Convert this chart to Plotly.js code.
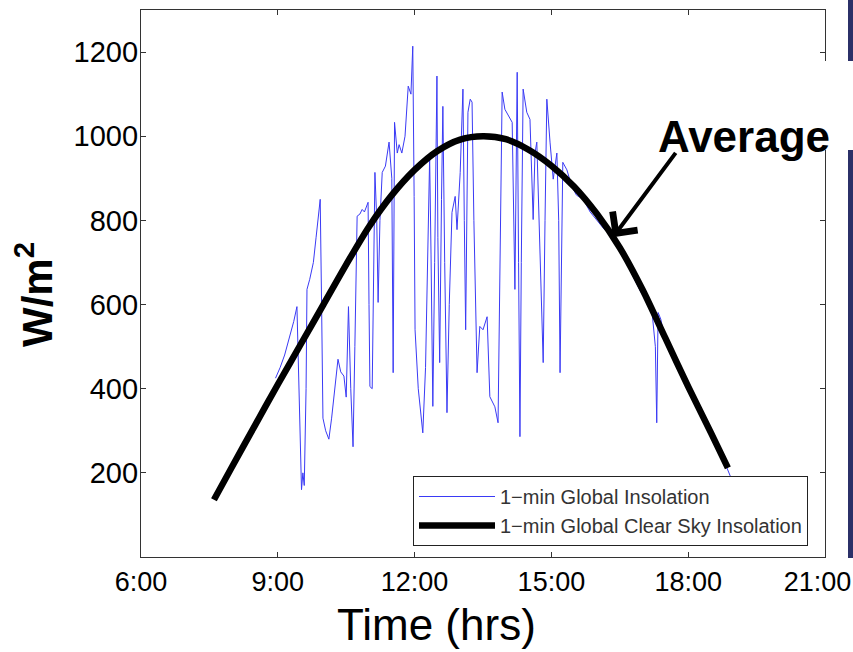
<!DOCTYPE html>
<html>
<head>
<meta charset="utf-8">
<script src="https://cdn.plot.ly/plotly-3.0.1.min.js"></script>
<style>
  html, body { margin: 0; padding: 0; background: #ffffff; }
  #chart { width: 853px; height: 652px; }
</style>
</head>
<body>
<div id="chart"></div>
<script>
// ---- Data ----
// 1-min Global Insolation (hours of day, W/m2)
const insolHours = [
  8.95, 9.05, 9.15, 9.25, 9.35, 9.42, 9.47, 9.52, 9.55, 9.58, 9.62, 9.64, 9.70, 9.78, 9.84, 9.88, 9.93, 9.96, 9.99,
  10.05, 10.12, 10.18, 10.25, 10.32, 10.38, 10.45, 10.50, 10.55, 10.60, 10.65, 10.69, 10.74, 10.80, 10.85, 10.90, 10.98,
  11.00, 11.02, 11.07, 11.10, 11.13, 11.17, 11.20, 11.24, 11.29, 11.36, 11.44, 11.50, 11.53, 11.56, 11.62, 11.66, 11.72,
  11.79, 11.86, 11.92, 11.96, 11.99, 12.01, 12.08, 12.14, 12.18, 12.24, 12.29, 12.33, 12.36, 12.40, 12.44, 12.49, 12.51,
  12.55, 12.59, 12.62, 12.66, 12.71, 12.76, 12.82, 12.89, 12.93, 13.00, 13.06, 13.09, 13.12, 13.17, 13.22, 13.26, 13.30,
  13.37, 13.43, 13.50, 13.59, 13.65, 13.76, 13.83, 13.87, 13.92, 13.98, 14.05, 14.14, 14.20, 14.25, 14.28, 14.31, 14.34,
  14.38, 14.46, 14.53, 14.60, 14.64, 14.68, 14.75, 14.82, 14.86, 14.90, 14.97, 15.04, 15.12, 15.16, 15.19, 15.22, 15.25,
  15.34, 15.45, 15.55, 15.70, 15.85, 16.00, 16.15, 16.30, 16.50, 16.80, 16.95, 17.10, 17.20, 17.28, 17.31, 17.34, 17.40,
  17.48, 17.60, 17.90, 18.20, 18.50, 18.80, 18.95
];
const insolValues = [
  425, 450, 480, 520, 560, 595, 400, 160, 200, 170, 400, 636, 660, 700, 760, 800, 850, 600, 330,
  300, 280, 330, 400, 470, 440, 430, 380, 595, 400, 262, 500, 810, 815, 826, 820, 843,
  600, 405, 400, 700, 914, 800, 605, 800, 914, 929, 986, 900, 438, 1033, 960, 980, 960,
  1000, 1119, 1100, 1214, 857, 540, 400, 330, 295, 450, 714, 950, 720, 358, 700, 1143, 760,
  462, 850, 1071, 700, 343, 600, 819, 857, 778, 914, 1112, 800, 540, 1057, 1088, 1081, 800,
  438, 548, 540, 571, 381, 357, 319, 700, 1105, 1064, 1050, 1033, 636, 1152, 700, 286, 700,
  1112, 1057, 1040, 802, 960, 986, 700, 462, 800, 1088, 986, 898, 960, 800, 438, 700, 938,
  920, 880, 860, 850, 820, 800, 780, 765, 730, 665, 632, 605, 590, 500, 319, 581, 565,
  520, 490, 430, 365, 295, 225, 185
];
// 1-min Global Clear Sky Insolation
const clearHours = [7.60, 8.00, 8.50, 9.00, 9.50, 10.00, 10.50, 11.00, 11.50, 12.00, 12.50, 13.00, 13.50,
  14.00, 14.50, 15.00, 15.50, 16.00, 16.50, 17.00, 17.50, 18.00, 18.50, 18.87];
const clearValues = [136, 215, 313, 410, 505, 600, 695, 785, 860, 920, 965, 992, 1000,
  993, 968, 930, 880, 815, 735, 635, 520, 405, 295, 212];

const xTickVals = [6, 9, 12, 15, 18, 21];
const xTickText = ['6:00', '9:00', '12:00', '15:00', '18:00', '21:00\u00A0\u00A0'];
const yTickVals = [200, 400, 600, 800, 1000, 1200];
const seriesNames = ['1\u2212min Global Insolation', '1\u2212min Global Clear Sky Insolation'];

// ---- Chart ----
const FONT = 'Liberation Sans, Arial, Helvetica, sans-serif';
const W = 853, H = 652;
const M = { l: 141, r: 28, t: 10, b: 95 };
const pw = W - M.l - M.r, ph = H - M.t - M.b;
const px = (x) => (x - M.l) / pw;          // page pixel -> paper x
const py = (y) => (H - M.b - y) / ph;      // page pixel -> paper y

const traces = [
  {
    x: insolHours, y: insolValues, type: 'scatter', mode: 'lines',
    name: seriesNames[0],
    line: { color: '#3a3af5', width: 1 }
  },
  {
    x: clearHours, y: clearValues, type: 'scatter', mode: 'lines',
    name: seriesNames[1],
    line: { color: '#000000', width: 6.5, shape: 'spline', smoothing: 0.8 }
  }
];

const axisCommon = {
  showline: true, linecolor: '#333333', linewidth: 1.3, mirror: 'ticks',
  ticks: 'inside', ticklen: 5, tickwidth: 1, tickcolor: '#333333',
  showgrid: false, zeroline: false, ticklabeloverflow: 'allow'
};

const layout = {
  width: W, height: H,
  margin: M,
  paper_bgcolor: '#ffffff', plot_bgcolor: '#ffffff',
  showlegend: true,
  xaxis: Object.assign({}, axisCommon, {
    range: [6, 21], tickmode: 'array', tickvals: xTickVals, ticktext: xTickText,
    tickfont: { family: FONT, size: 27, color: '#000000' }
  }),
  yaxis: Object.assign({}, axisCommon, {
    range: [0, 1300], tickmode: 'array', tickvals: yTickVals, ticklabelstandoff: -4,
    tickfont: { family: FONT, size: 29, color: '#000000' }
  }),
  legend: {
    x: px(808), y: py(546), xanchor: 'right', yanchor: 'bottom',
    bgcolor: '#ffffff', bordercolor: '#222222', borderwidth: 1,
    font: { family: FONT, size: 20, color: '#333333' },
    itemwidth: 76, tracegroupgap: 0
  },
  shapes: [
    // white box behind "Average" covering the frame
    { type: 'rect', xref: 'paper', yref: 'paper', x0: px(640), x1: px(853), y0: py(150), y1: py(61),
      fillcolor: '#ffffff', line: { width: 0 }, layer: 'above' },
    // navy slide bars at right edge
    { type: 'rect', xref: 'paper', yref: 'paper', x0: px(848), x1: px(856), y0: py(61), y1: py(0),
      fillcolor: '#2b3068', line: { width: 0 }, layer: 'above' },
    { type: 'rect', xref: 'paper', yref: 'paper', x0: px(848), x1: px(856), y0: py(558), y1: py(150),
      fillcolor: '#2b3068', line: { width: 0 }, layer: 'above' }
  ],
  annotations: [
    { text: '<b>Average</b>', xref: 'paper', yref: 'paper', x: px(744), y: py(136),
      xanchor: 'center', yanchor: 'middle', showarrow: false,
      font: { family: FONT, size: 44, color: '#000000' } },
    { text: '', x: 16.35, y: 760, ax: 17.75, ay: 964, xref: 'x', yref: 'y', axref: 'x', ayref: 'y',
      showarrow: true, arrowhead: 4, arrowsize: 1.5, arrowwidth: 4, arrowcolor: '#000000', standoff: 0 },
    { text: 'Time (hrs)', xref: 'paper', yref: 'paper', x: px(436), y: py(624),
      xanchor: 'center', yanchor: 'middle', showarrow: false,
      font: { family: FONT, size: 44, color: '#000000' } },
    { text: '<b>W/m<sup>2</sup></b>', xref: 'paper', yref: 'paper', x: px(34), y: py(295),
      xanchor: 'center', yanchor: 'middle', showarrow: false, textangle: -90,
      font: { family: FONT, size: 42, color: '#000000' } }
  ]
};

Plotly.newPlot('chart', traces, layout, { displayModeBar: false, responsive: false });
</script>
</body>
</html>
